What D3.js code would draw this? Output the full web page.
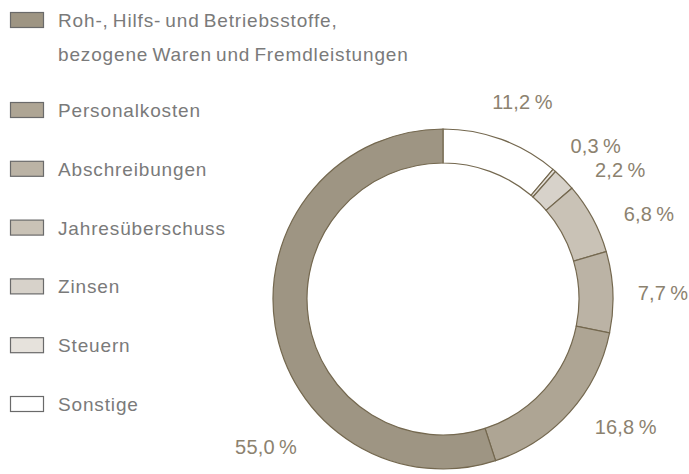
<!DOCTYPE html>
<html>
<head>
<meta charset="utf-8">
<script src="https://cdn.jsdelivr.net/npm/d3@7"></script>
<style>
  body { margin: 0; background: #fff; }
  svg { display: block; font-family: 'Liberation Sans', Arial, sans-serif; }
  .legend text { fill: #7a7a7a; font-size: 19px; letter-spacing: 0.85px; word-spacing: -2px; }
  .pct { fill: #8c826f; font-size: 20px; letter-spacing: 0.2px; }
</style>
</head>
<body>
<div id="chart"></div>
<script>
// cost structure, clockwise from 12 o'clock
var categories = ['Sonstige', 'Steuern', 'Zinsen', 'Jahresüberschuss', 'Abschreibungen', 'Personalkosten',
  'Roh-, Hilfs- und Betriebsstoffe, bezogene Waren und Fremdleistungen']
var values = [11.2, 0.3, 2.2, 6.8, 7.7, 16.8, 55.0]
var pctLabels = ['11,2\u2009%', '0,3\u2009%', '2,2\u2009%', '6,8\u2009%', '7,7\u2009%', '16,8\u2009%', '55,0\u2009%']

// legend goes the other way round (biggest first)
var legendLines = [
  ['Roh-, Hilfs- und Betriebsstoffe,', 'bezogene Waren und Fremdleistungen'],
  ['Personalkosten'], ['Abschreibungen'], ['Jahresüberschuss'], ['Zinsen'], ['Steuern'], ['Sonstige']
]

var fills = ['#ffffff', '#e6e2dc', '#d7d2ca', '#c9c2b6', '#bbb3a5', '#aea594', '#9e9583']
var legendFills = ['#9e9583', '#aea594', '#bbb3a5', '#c9c2b6', '#d7d2ca', '#e6e2dc', '#ffffff']

// label placement (degrees clockwise from top) - hand tuned so small slices don't collide
var labelAngle = [22, 45, 54, 67.5, 88.5, 125, 230]
var labelRadius = [212, 216, 219, 223, 220, 223, 231]

var width = 689, height = 474
var cx = 443, cy = 299, rOuter = 170, rInner = 136

var svg = d3.select('#chart').append('svg')
  .attr('width', width)
  .attr('height', height)

var pie = d3.pie().sort(null).value(function(d) { return d })
var arc = d3.arc().innerRadius(rInner).outerRadius(rOuter)

var ring = svg.append('g').attr('transform', 'translate(' + cx + ',' + cy + ')')

ring.selectAll('path')
  .data(pie(values))
  .enter().append('path')
  .attr('d', arc)
  .attr('fill', function(d, i) { return fills[i] })
  .attr('stroke', '#74684f')
  .attr('stroke-width', 1.2)

ring.selectAll('text.pct')
  .data(pctLabels)
  .enter().append('text')
  .attr('class', 'pct')
  .attr('text-anchor', 'middle')
  .attr('dominant-baseline', 'central')
  .attr('x', function(d, i) { return labelRadius[i] * Math.sin(labelAngle[i] * Math.PI / 180) })
  .attr('y', function(d, i) { return -labelRadius[i] * Math.cos(labelAngle[i] * Math.PI / 180) })
  .text(function(d) { return d })

// legend
var rowY = d3.scaleLinear().domain([1, 6]).range([102, 396])
var legend = svg.append('g').attr('class', 'legend')

var items = legend.selectAll('g')
  .data(legendLines)
  .enter().append('g')
  .attr('transform', function(d, i) {
    var y = i === 0 ? 12 : rowY(i)
    return 'translate(10,' + y + ')'
  })

items.append('rect')
  .attr('x', 0.5).attr('y', 0.5)
  .attr('width', 33).attr('height', 15)
  .attr('fill', function(d, i) { return legendFills[i] })
  .attr('stroke', '#6a6a6a')
  .attr('stroke-width', 1.2)

items.each(function(lines) {
  var g = d3.select(this)
  lines.forEach(function(t, j) {
    g.append('text')
      .attr('x', 48)
      .attr('y', 15 + j * 34)
      .text(t)
  })
})
</script>
</body>
</html>
